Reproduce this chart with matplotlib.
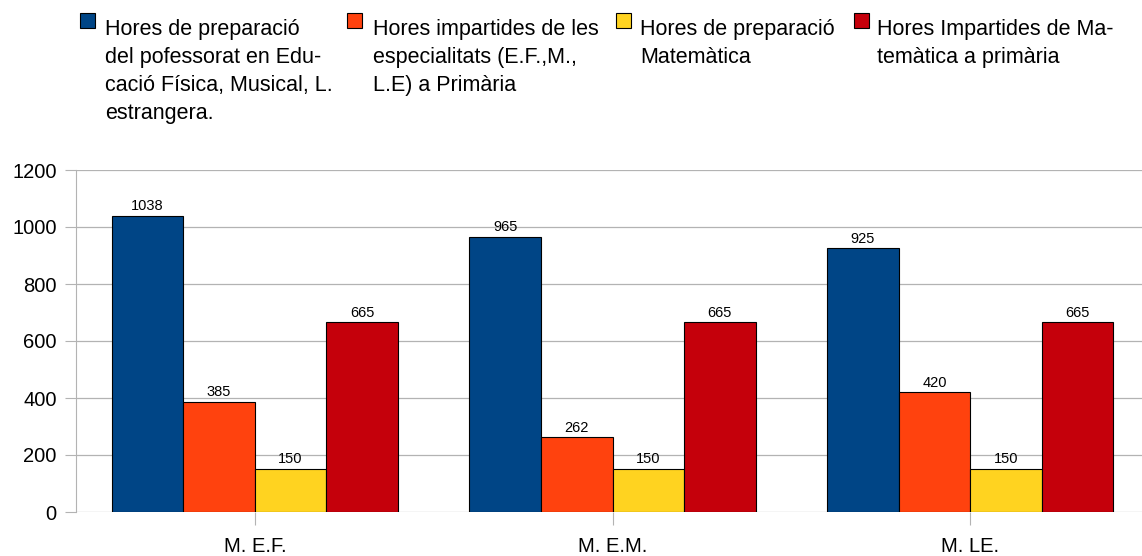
import matplotlib
matplotlib.use("Agg")
import matplotlib.pyplot as plt
from matplotlib.patches import Rectangle
import numpy as np

plt.rcParams['font.family'] = ['Liberation Sans', 'DejaVu Sans']

categories = ['M. E.F.', 'M. E.M.', 'M. LE.']
series_names = [
    "Hores de preparació\ndel pofessorat en Edu-\ncació Física, Musical, L.\nestrangera.",
    "Hores impartides de les\nespecialitats (E.F.,M.,\nL.E) a Primària",
    "Hores de preparació\nMatemàtica",
    "Hores Impartides de Ma-\ntemàtica a primària",
]
prep_especialitats = [1038, 965, 925]
hores_especialitats = [385, 262, 420]
prep_matematica = [150, 150, 150]
hores_matematica = [665, 665, 665]
series_values = [prep_especialitats, hores_especialitats, prep_matematica, hores_matematica]
colors = ['#004586', '#ff420e', '#ffd320', '#c5000b']
yticks = [0, 200, 400, 600, 800, 1000, 1200]

W, H = 1142, 556
fig = plt.figure(figsize=(W / 100, H / 100), dpi=100)
ax = fig.add_axes([76 / W, (H - 512) / H, 1073 / W, 342 / H])

x = np.arange(len(categories))
bw = 0.2
for i, (vals, c) in enumerate(zip(series_values, colors)):
    bars = ax.bar(x + (i - 1.5) * bw, vals, bw, color=c, edgecolor='black',
                  linewidth=0.8, zorder=3)
    ax.bar_label(bars, padding=2, fontsize=10.5)

ax.set_xlim(-0.5, 2.5)
ax.set_ylim(0, 1200)
ax.set_yticks(yticks)
ax.set_xticks(x)
ax.set_xticklabels(categories)
ax.yaxis.grid(True, color='#b3b3b3', linewidth=0.9, zorder=0)
ax.set_axisbelow(True)
for s in ['top', 'right', 'bottom']:
    ax.spines[s].set_visible(False)
ax.spines['left'].set_color('#b3b3b3')
ax.tick_params(axis='y', length=8, color='#b3b3b3', labelsize=14.5, pad=6)
ax.tick_params(axis='x', length=9, color='#b3b3b3', labelsize=14.5, pad=9)

# legend drawn by hand (wrapped lines, square keys)
key_x = [80, 347, 616, 854]
text_x = [105, 373, 640, 877]
for kx, tx, name, c in zip(key_x, text_x, series_names, colors):
    fig.patches.append(Rectangle((kx / W, 1 - 28 / H), 15 / W, 15 / H,
                                 transform=fig.transFigure, facecolor=c,
                                 edgecolor='black', linewidth=0.8))
    for j, line in enumerate(name.split('\n')):
        fig.text(tx / W, 1 - (35 + 28 * j) / H, line, fontsize=15.5,
                 ha='left', va='baseline')

fig.savefig('out.png', dpi=100)
